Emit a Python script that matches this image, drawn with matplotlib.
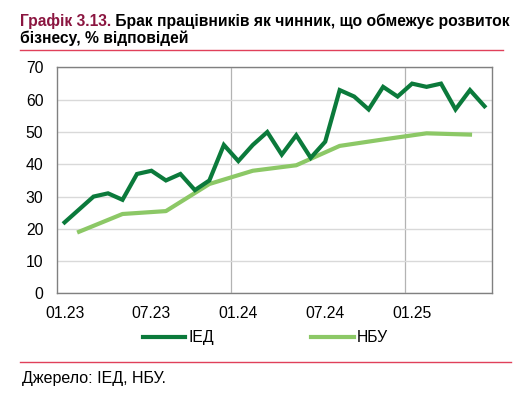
import matplotlib
matplotlib.use("Agg")
import matplotlib.pyplot as plt
import numpy as np

# IED monthly survey, 01.2023 - 06.2025
ied_values = [22, 26, 30, 31, 29, 37, 38, 35, 37, 32, 35, 46, 41, 46, 50,
              43, 49, 42, 47, 63, 61, 57, 64, 61, 65, 64, 65, 57, 63, 58]
# NBU quarterly survey (month index from 01.2023)
nbu_months = [1, 4, 7, 10, 13, 16, 19, 22, 25, 28]
nbu_values = [19.1, 24.6, 25.5, 33.9, 38.0, 39.7, 45.7, 47.7, 49.6, 49.2]

tick_months = [0, 6, 12, 18, 24]
tick_labels = ["01.23", "07.23", "01.24", "07.24", "01.25"]
year_starts = [12, 24]

dark_green = "#0b7a3b"
light_green = "#8cc866"
red_line = "#e0405a"

plt.rcParams["font.family"] = ["Liberation Sans", "DejaVu Sans"]

fig = plt.figure(figsize=(5.31, 3.97), dpi=100)
ax = fig.add_axes([0.108, 0.261, 0.818, 0.569])

x_ied = np.arange(len(ied_values)) + 0.5
x_nbu = np.array(nbu_months) + 0.5
ax.plot(x_ied, ied_values, color=dark_green, lw=3, label="ІЕД", solid_joinstyle="miter", zorder=3)
ax.plot(x_nbu, nbu_values, color=light_green, lw=3, label="НБУ", zorder=2)

ax.set_xlim(0, len(ied_values))
ax.set_ylim(0, 70)
ax.set_yticks(range(0, 71, 10))
ax.set_xticks(np.array(tick_months) + 0.5)
ax.set_xticklabels(tick_labels)
ax.set_xticks(year_starts, minor=True)
ax.tick_params(axis="both", which="both", length=0, labelsize=11.3)
ax.tick_params(axis="x", pad=9)
ax.tick_params(axis="y", pad=10)

ax.grid(axis="y", color="#d9d9d9", lw=1)
ax.grid(axis="x", which="minor", color="#b3b3b3", lw=0.9)
ax.set_axisbelow(True)
for s in ax.spines.values():
    s.set_color("#808080")
    s.set_linewidth(1)

fig.legend(loc="center", bbox_to_anchor=(0.5, 0.149), ncol=2, frameon=False,
           fontsize=11.3, handlelength=2.7, handletextpad=0.2, columnspacing=6.2)

# title
t1 = fig.text(20 / 531, 1 - 21 / 397, "Графік 3.13.", color="#8b1540",
              fontsize=11.25, fontweight="bold", va="center", ha="left")
ax.annotate(" Брак працівників як чинник, що обмежує розвиток", xy=(1, 0.5), xycoords=t1,
            va="center", ha="left", fontsize=11.25, fontweight="bold", color="black",
            annotation_clip=False)
fig.text(20 / 531, 1 - 38 / 397, "бізнесу, % відповідей", color="black",
         fontsize=11.25, fontweight="bold", va="center", ha="left")

fig.add_artist(plt.Line2D([20 / 531, 503 / 531], [1 - 50 / 397] * 2, color=red_line, lw=1))
fig.add_artist(plt.Line2D([20 / 531, 511 / 531], [1 - 362 / 397] * 2, color=red_line, lw=1))

fig.text(22 / 531, 1 - 379 / 397, "Джерело: ІЕД, НБУ.", fontsize=11.5, va="center", ha="left")

fig.savefig("out.png", dpi=100)
